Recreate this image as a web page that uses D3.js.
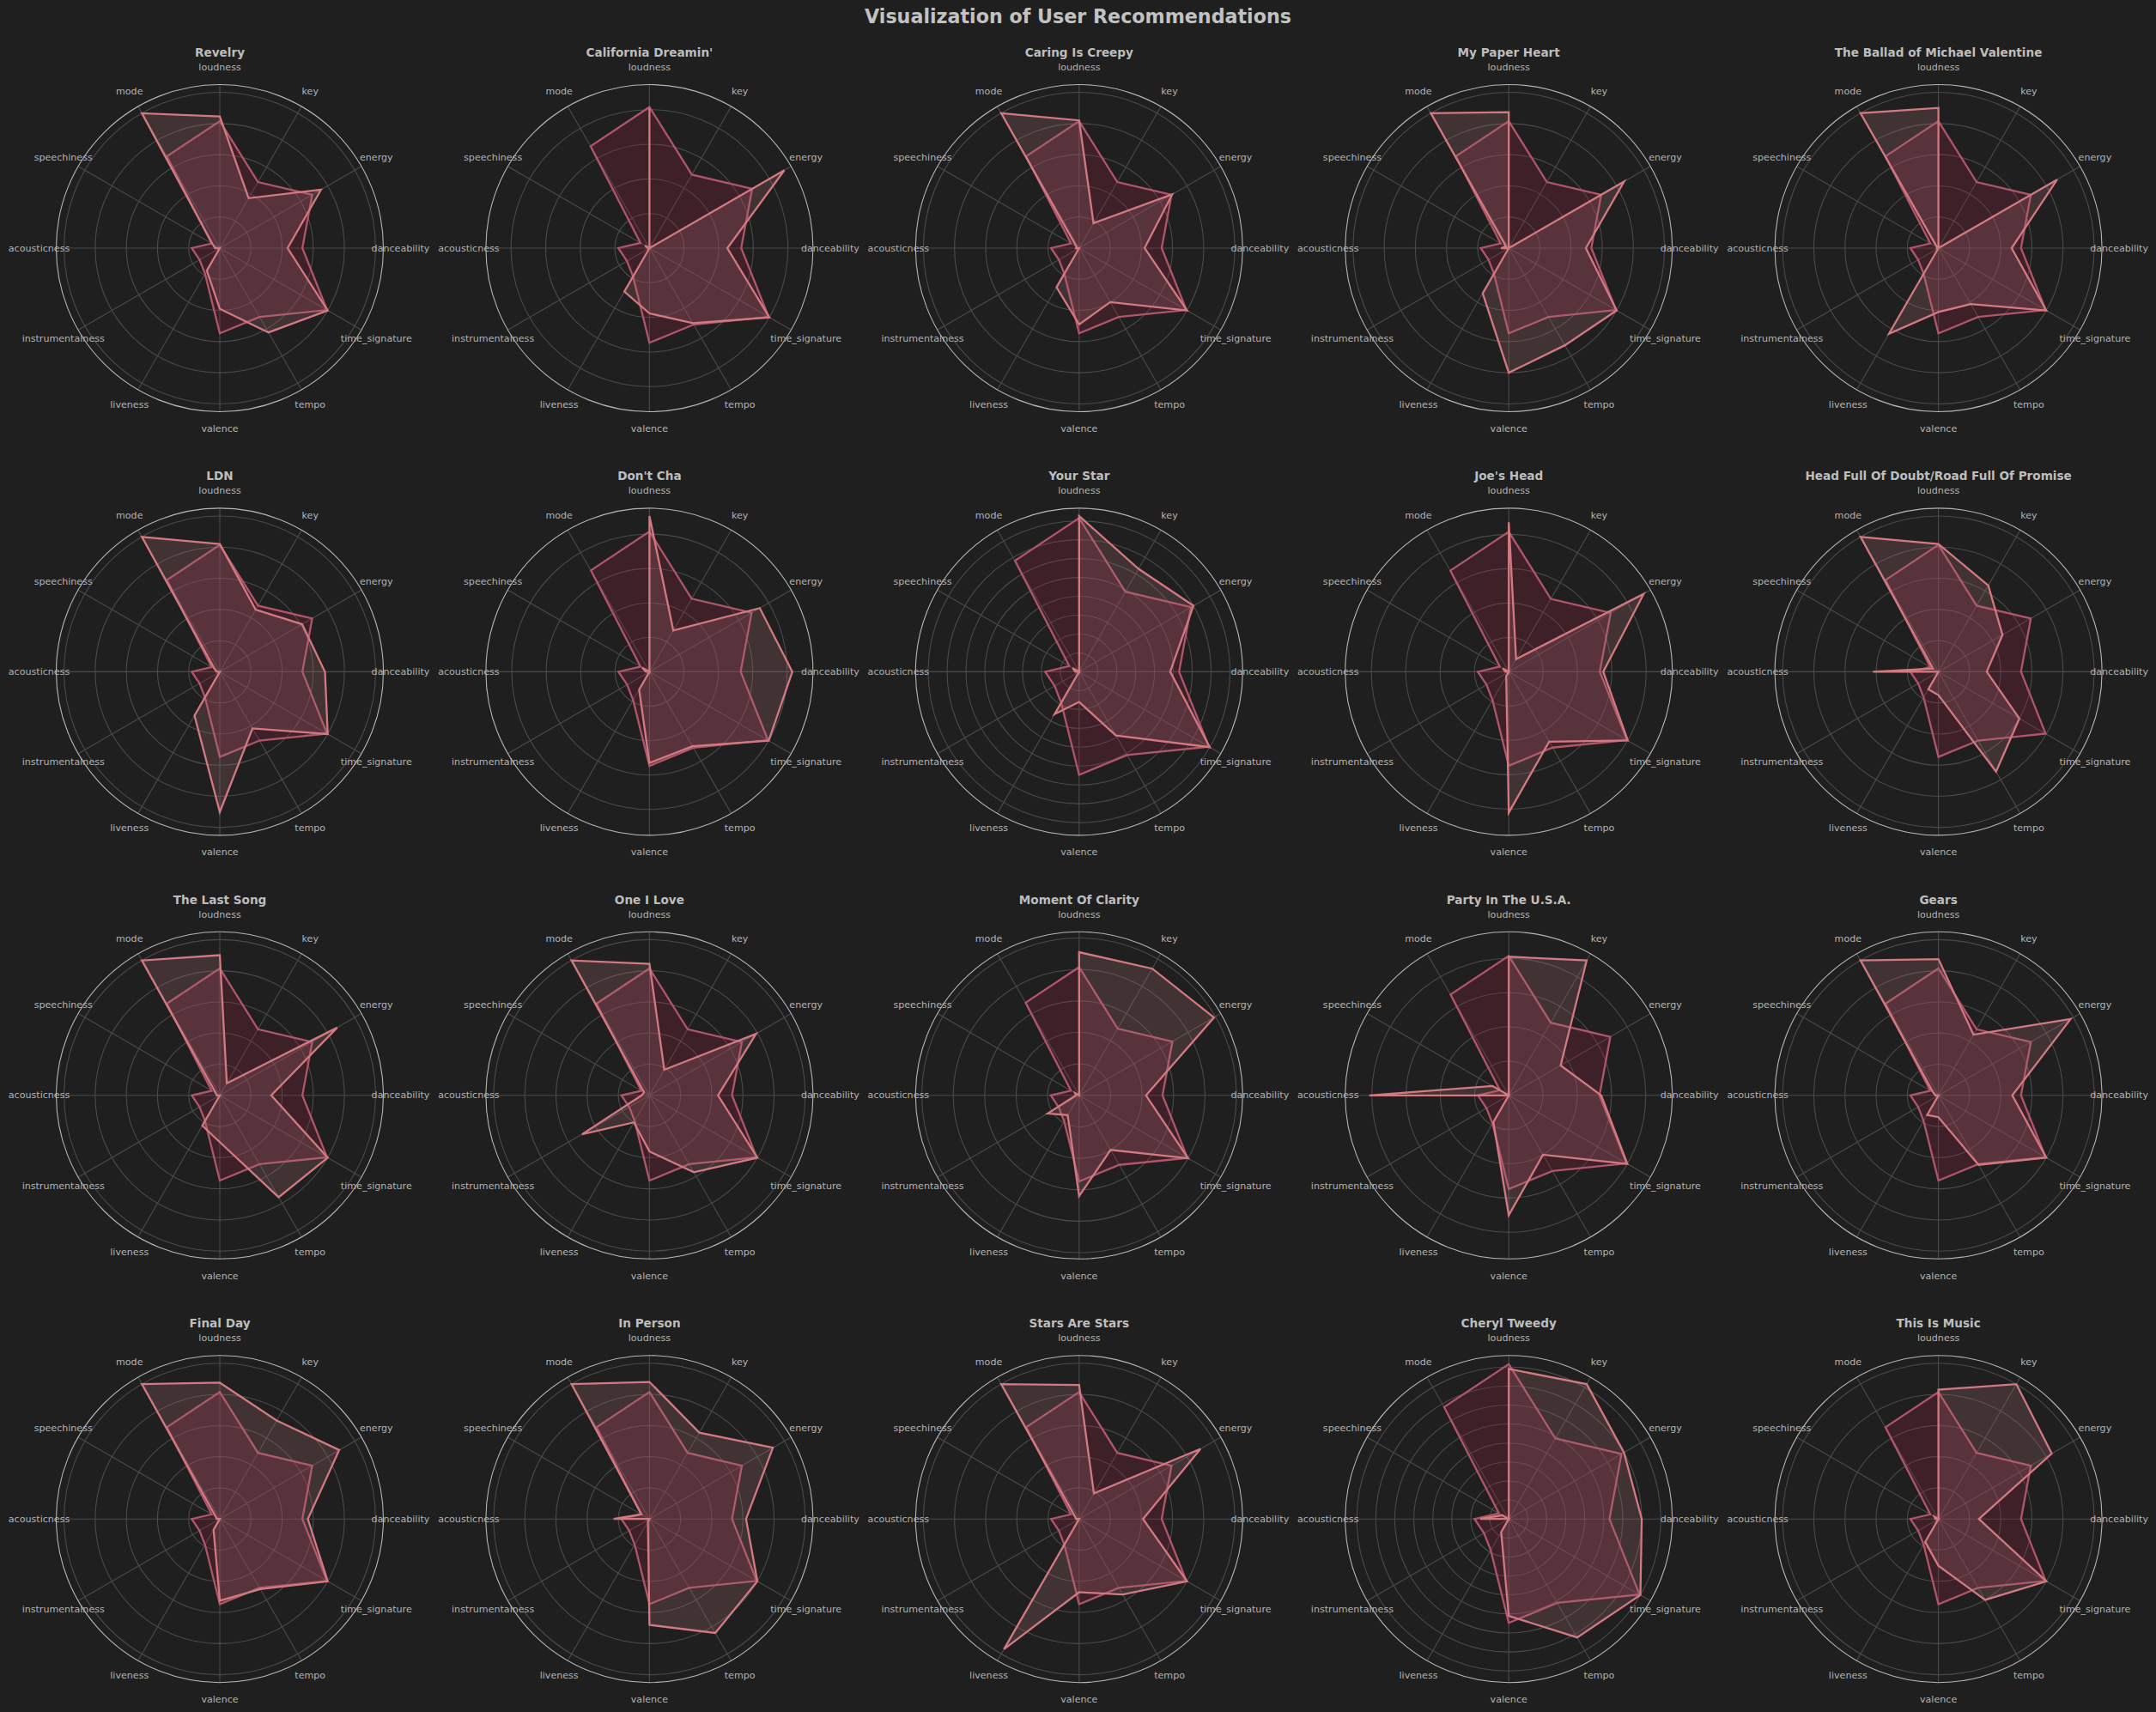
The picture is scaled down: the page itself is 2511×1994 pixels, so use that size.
<!DOCTYPE html>
<html>
<head>
<meta charset="utf-8">
<script src="https://cdn.jsdelivr.net/npm/d3@7"></script>
<style>
  html, body { margin: 0; padding: 0; background: #1f1f1f; }
  svg { display: block; font-family: "DejaVu Sans", sans-serif; }
</style>
</head>
<body>
<svg id="chart" width="2511" height="1994"></svg>
<script>
// ---- data ----
const features = ["danceability", "energy", "key", "loudness", "mode", "speechiness",
  "acousticness", "instrumentalness", "liveness", "valence", "tempo", "time_signature"];

const songTitles = ["Revelry", "California Dreamin'", "Caring Is Creepy", "My Paper Heart",
  "The Ballad of Michael Valentine", "LDN", "Don't Cha", "Your Star", "Joe's Head",
  "Head Full Of Doubt/Road Full Of Promise", "The Last Song", "One I Love",
  "Moment Of Clarity", "Party In The U.S.A.", "Gears", "Final Day", "In Person",
  "Stars Are Stars", "Cheryl Tweedy", "This Is Music"];

// user taste profile (same in every panel)
const userProfile = [0.53, 0.685, 0.49, 0.815, 0.68, 0.06, 0.18, 0.15, 0.19, 0.547, 0.51, 0.795];

// recommended song features, in the order of `features`
const songValues = [
  [0.435, 0.75, 0.37, 0.845, 1, 0.055, 0.03, 0.0, 0.167, 0.39, 0.625, 0.8],
  [0.45, 0.90, 0.0, 0.81, 0, 0.03, 0.01, 0.0, 0.29, 0.377, 0.50, 0.8],
  [0.42, 0.69, 0.185, 0.82, 1, 0.02, 0.02, 0.0, 0.29, 0.49, 0.40, 0.8],
  [0.495, 0.855, 0.0, 0.873, 1, 0.02, 0.05, 0.0, 0.335, 0.80, 0.72, 0.8],
  [0.47, 0.88, 0.0, 0.90, 1, 0.01, 0.01, 0.0, 0.635, 0.41, 0.415, 0.8],
  [0.675, 0.61, 0.46, 0.82, 1, 0.04, 0.02, 0.0, 0.325, 0.90, 0.42, 0.8],
  [0.83, 0.74, 0.277, 0.905, 0, 0.05, 0.02, 0.0, 0.12, 0.53, 0.50, 0.8],
  [0.483, 0.70, 0.63, 0.826, 0, 0.04, 0.02, 0.0, 0.26, 0.16, 0.39, 0.8],
  [0.55, 0.907, 0.085, 0.87, 0, 0.04, 0.02, 0.0, 0.03, 0.82, 0.47, 0.8],
  [0.31, 0.475, 0.64, 0.82, 1, 0.04, 0.42, 0.0, 0.13, 0.15, 0.74, 0.6],
  [0.33, 0.87, 0.09, 0.90, 1, 0.03, 0.02, 0.0, 0.225, 0.30, 0.755, 0.8],
  [0.44, 0.79, 0.19, 0.845, 1, 0.04, 0.05, 0.5, 0.2, 0.36, 0.57, 0.8],
  [0.425, 0.99, 0.93, 0.91, 0, 0.03, 0.02, 0.23, 0.145, 0.64, 0.40, 0.8],
  [0.54, 0.35, 0.91, 0.81, 0, 0.11, 0.815, 0.0, 0.18, 0.70, 0.40, 0.8],
  [0.474, 0.98, 0.45, 0.875, 1, 0.04, 0.02, 0.0, 0.145, 0.14, 0.515, 0.8],
  [0.565, 0.885, 0.73, 0.875, 1, 0.03, 0.02, 0.0, 0.08, 0.525, 0.52, 0.8],
  [0.62, 0.915, 0.64, 0.88, 1, 0.06, 0.23, 0.0, 0.02, 0.68, 0.845, 0.8],
  [0.41, 0.90, 0.19, 0.86, 1, 0.03, 0.02, 0.0, 0.965, 0.47, 0.56, 0.8],
  [0.70, 0.70, 0.82, 0.79, 0, 0.04, 0.15, 0.0, 0.08, 0.51, 0.72, 0.8],
  [0.26, 0.84, 1.0, 0.83, 0, 0.03, 0.02, 0.0, 0.17, 0.30, 0.60, 0.8]
];

const figTitle = "Visualization of User Recommendations";

// ---- layout ----
const W = 2511, H = 1994;
const nCols = 5;
const outerR = 190.5;
const labelR = 210.5;

const svg = d3.select("#chart");
svg.append("rect").attr("width", W).attr("height", H).attr("fill", "#1f1f1f");

const colX = d3.scaleLinear().domain([0, 1]).range([256, 756.4]);
const rowY = d3.scaleLinear().domain([0, 1]).range([289, 782.4]);

// angle in d3 convention (clockwise from 12 o'clock); feature 0 at east, going counter-clockwise
const angle = d3.scaleLinear().domain([0, features.length]).range([Math.PI / 2, Math.PI / 2 - 2 * Math.PI]);

function tickStep(rmax) {
  const steps = [0.1, 0.2, 0.25, 0.5, 1, 2];
  for (const s of steps) if (Math.ceil(rmax / s - 1e-9) <= 9) return s;
  return 2;
}

svg.append("text")
  .attr("x", W / 2).attr("y", 18.5)
  .attr("text-anchor", "middle").attr("dominant-baseline", "central")
  .attr("font-size", 22.2).attr("font-weight", "bold").attr("fill", "#c2c2c2")
  .text(figTitle);

songTitles.forEach((title, k) => {
  const col = k % nCols, row = Math.floor(k / nCols);
  const cx = colX(col), cy = rowY(row);
  const vals = songValues[k];
  const rmax = 1.05 * d3.max(vals.concat(userProfile));
  const r = d3.scaleLinear().domain([0, rmax]).range([0, outerR]);
  const step = tickStep(rmax);
  const ticks = d3.range(step, rmax - 1e-9, step);

  const g = svg.append("g").attr("transform", `translate(${cx},${cy})`);

  // grid circles
  g.selectAll("circle.grid").data(ticks).join("circle")
    .attr("class", "grid").attr("r", d => r(d))
    .attr("fill", "none").attr("stroke", "#4b4b4b").attr("stroke-width", 1.1);

  // spokes
  g.selectAll("line.spoke").data(features).join("line")
    .attr("class", "spoke")
    .attr("x1", 0).attr("y1", 0)
    .attr("x2", (d, i) => outerR * Math.sin(angle(i)))
    .attr("y2", (d, i) => -outerR * Math.cos(angle(i)))
    .attr("stroke", "#4b4b4b").attr("stroke-width", 1.1);

  // outer spine
  g.append("circle").attr("r", outerR).attr("fill", "none")
    .attr("stroke", "#b5b5b5").attr("stroke-width", 1.1);

  const line = d3.lineRadial()
    .angle((d, i) => angle(i))
    .radius(d => r(d))
    .curve(d3.curveLinearClosed);

  // user profile polygon
  g.append("path").attr("d", line(userProfile))
    .attr("fill", "#9b2343").attr("fill-opacity", 0.25)
    .attr("stroke", "#b0566a").attr("stroke-width", 2.3).attr("stroke-linejoin", "miter");

  // song polygon
  g.append("path").attr("d", line(vals))
    .attr("fill", "#a86b72").attr("fill-opacity", 0.25)
    .attr("stroke", "#d27a80").attr("stroke-width", 2.3).attr("stroke-linejoin", "miter");

  // feature labels
  g.selectAll("text.lab").data(features).join("text")
    .attr("class", "lab")
    .attr("x", (d, i) => labelR * Math.sin(angle(i)))
    .attr("y", (d, i) => -labelR * Math.cos(angle(i)))
    .attr("text-anchor", "middle").attr("dominant-baseline", "central")
    .attr("font-size", 11.1).attr("fill", "#b3b3b3")
    .text(d => d);

  // subplot title
  g.append("text").attr("x", 0).attr("y", -228)
    .attr("text-anchor", "middle").attr("dominant-baseline", "central")
    .attr("font-size", 13.6).attr("font-weight", "bold").attr("fill", "#bdbdbd")
    .text(title);
});
</script>
</body>
</html>
